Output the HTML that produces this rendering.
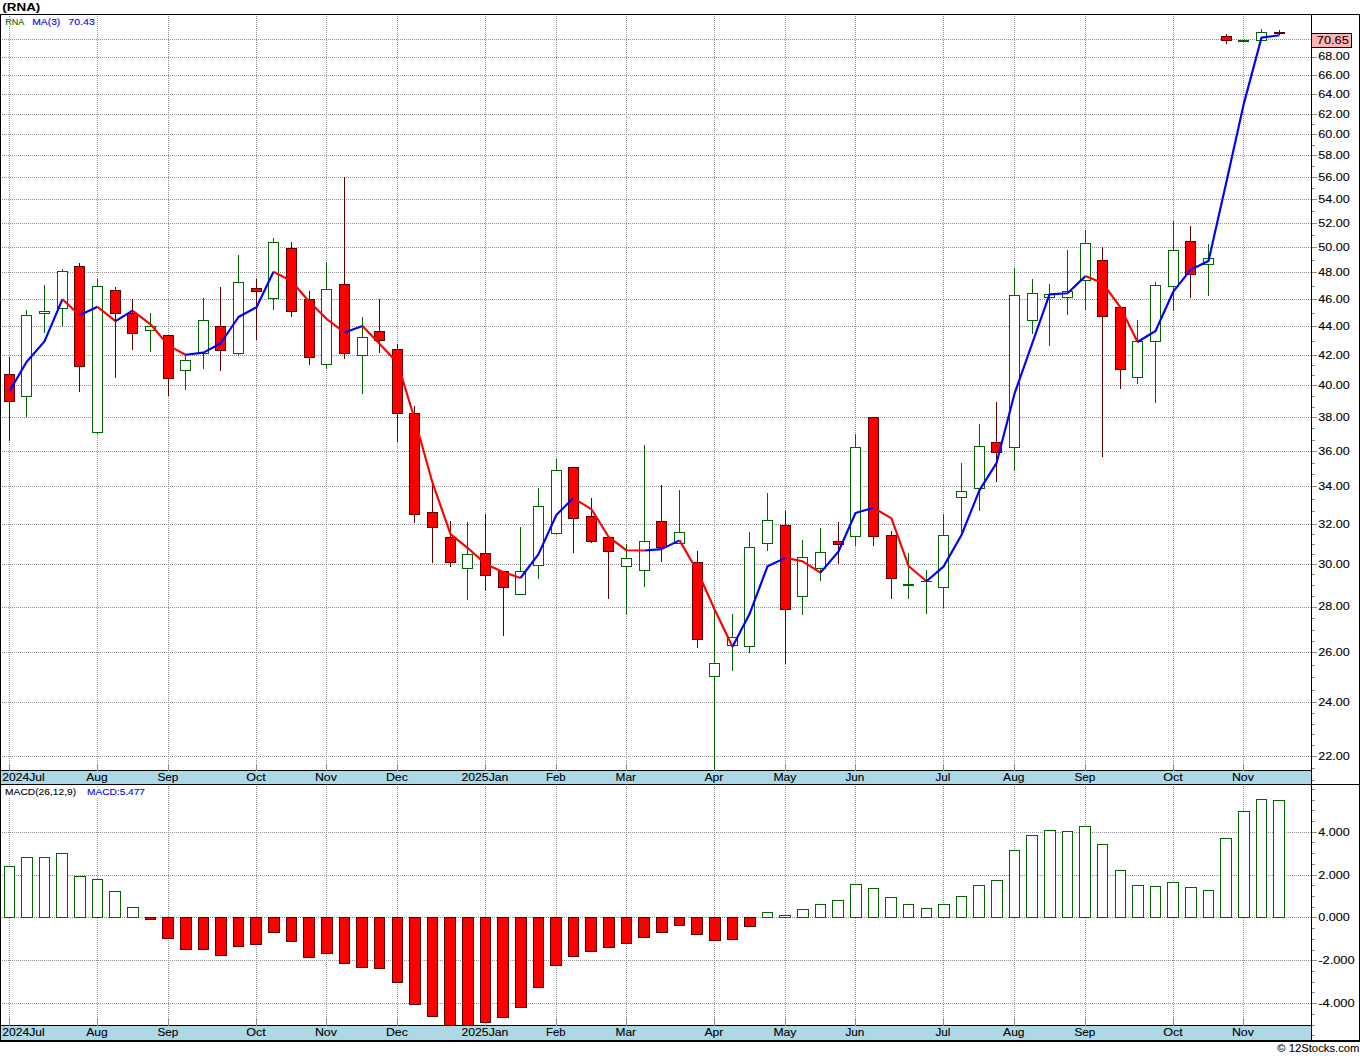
<!DOCTYPE html><html><head><meta charset="utf-8"><title>RNA</title><style>html,body{margin:0;padding:0;background:#fff}svg{display:block}</style></head><body><svg width="1360" height="1056" viewBox="0 0 1360 1056"><style>.d{stroke:#909090;stroke-width:1;stroke-dasharray:1 1}</style><rect width="1360" height="1056" fill="#fff"/><g shape-rendering="crispEdges">
<line x1="2" y1="756.5" x2="1311" y2="756.5" class="d"/>
<line x1="2" y1="702.5" x2="1311" y2="702.5" class="d"/>
<line x1="2" y1="652.5" x2="1311" y2="652.5" class="d"/>
<line x1="2" y1="607.5" x2="1311" y2="607.5" class="d"/>
<line x1="2" y1="564.5" x2="1311" y2="564.5" class="d"/>
<line x1="2" y1="524.5" x2="1311" y2="524.5" class="d"/>
<line x1="2" y1="486.5" x2="1311" y2="486.5" class="d"/>
<line x1="2" y1="451.5" x2="1311" y2="451.5" class="d"/>
<line x1="2" y1="417.5" x2="1311" y2="417.5" class="d"/>
<line x1="2" y1="385.5" x2="1311" y2="385.5" class="d"/>
<line x1="2" y1="355.5" x2="1311" y2="355.5" class="d"/>
<line x1="2" y1="326.5" x2="1311" y2="326.5" class="d"/>
<line x1="2" y1="299.5" x2="1311" y2="299.5" class="d"/>
<line x1="2" y1="272.5" x2="1311" y2="272.5" class="d"/>
<line x1="2" y1="247.5" x2="1311" y2="247.5" class="d"/>
<line x1="2" y1="223.5" x2="1311" y2="223.5" class="d"/>
<line x1="2" y1="199.5" x2="1311" y2="199.5" class="d"/>
<line x1="2" y1="177.5" x2="1311" y2="177.5" class="d"/>
<line x1="2" y1="155.5" x2="1311" y2="155.5" class="d"/>
<line x1="2" y1="134.5" x2="1311" y2="134.5" class="d"/>
<line x1="2" y1="114.5" x2="1311" y2="114.5" class="d"/>
<line x1="2" y1="94.5" x2="1311" y2="94.5" class="d"/>
<line x1="2" y1="75.5" x2="1311" y2="75.5" class="d"/>
<line x1="2" y1="57.5" x2="1311" y2="57.5" class="d"/>
<line x1="2" y1="39.5" x2="1311" y2="39.5" class="d"/>
<line x1="2" y1="832.5" x2="1311" y2="832.5" class="d"/>
<line x1="2" y1="875.5" x2="1311" y2="875.5" class="d"/>
<line x1="2" y1="917.5" x2="1311" y2="917.5" class="d"/>
<line x1="2" y1="960.5" x2="1311" y2="960.5" class="d"/>
<line x1="2" y1="1003.5" x2="1311" y2="1003.5" class="d"/>
<line x1="9.5" y1="16" x2="9.5" y2="764" class="d"/>
<line x1="9.5" y1="786" x2="9.5" y2="1019" class="d"/>
<rect x="9" y="764" width="1" height="6" fill="#8e8e8e"/>
<rect x="9" y="1019" width="1" height="6" fill="#8e8e8e"/>
<line x1="97.5" y1="16" x2="97.5" y2="764" class="d"/>
<line x1="97.5" y1="786" x2="97.5" y2="1019" class="d"/>
<rect x="97" y="764" width="1" height="6" fill="#8e8e8e"/>
<rect x="97" y="1019" width="1" height="6" fill="#8e8e8e"/>
<line x1="168.5" y1="16" x2="168.5" y2="764" class="d"/>
<line x1="168.5" y1="786" x2="168.5" y2="1019" class="d"/>
<rect x="168" y="764" width="1" height="6" fill="#8e8e8e"/>
<rect x="168" y="1019" width="1" height="6" fill="#8e8e8e"/>
<line x1="256.5" y1="16" x2="256.5" y2="764" class="d"/>
<line x1="256.5" y1="786" x2="256.5" y2="1019" class="d"/>
<rect x="256" y="764" width="1" height="6" fill="#8e8e8e"/>
<rect x="256" y="1019" width="1" height="6" fill="#8e8e8e"/>
<line x1="326.5" y1="16" x2="326.5" y2="764" class="d"/>
<line x1="326.5" y1="786" x2="326.5" y2="1019" class="d"/>
<rect x="326" y="764" width="1" height="6" fill="#8e8e8e"/>
<rect x="326" y="1019" width="1" height="6" fill="#8e8e8e"/>
<line x1="397.5" y1="16" x2="397.5" y2="764" class="d"/>
<line x1="397.5" y1="786" x2="397.5" y2="1019" class="d"/>
<rect x="397" y="764" width="1" height="6" fill="#8e8e8e"/>
<rect x="397" y="1019" width="1" height="6" fill="#8e8e8e"/>
<line x1="485.5" y1="16" x2="485.5" y2="764" class="d"/>
<line x1="485.5" y1="786" x2="485.5" y2="1019" class="d"/>
<rect x="485" y="764" width="1" height="6" fill="#8e8e8e"/>
<rect x="485" y="1019" width="1" height="6" fill="#8e8e8e"/>
<line x1="556.5" y1="16" x2="556.5" y2="764" class="d"/>
<line x1="556.5" y1="786" x2="556.5" y2="1019" class="d"/>
<rect x="556" y="764" width="1" height="6" fill="#8e8e8e"/>
<rect x="556" y="1019" width="1" height="6" fill="#8e8e8e"/>
<line x1="626.5" y1="16" x2="626.5" y2="764" class="d"/>
<line x1="626.5" y1="786" x2="626.5" y2="1019" class="d"/>
<rect x="626" y="764" width="1" height="6" fill="#8e8e8e"/>
<rect x="626" y="1019" width="1" height="6" fill="#8e8e8e"/>
<line x1="714.5" y1="16" x2="714.5" y2="764" class="d"/>
<line x1="714.5" y1="786" x2="714.5" y2="1019" class="d"/>
<rect x="714" y="764" width="1" height="6" fill="#8e8e8e"/>
<rect x="714" y="1019" width="1" height="6" fill="#8e8e8e"/>
<line x1="785.5" y1="16" x2="785.5" y2="764" class="d"/>
<line x1="785.5" y1="786" x2="785.5" y2="1019" class="d"/>
<rect x="785" y="764" width="1" height="6" fill="#8e8e8e"/>
<rect x="785" y="1019" width="1" height="6" fill="#8e8e8e"/>
<line x1="855.5" y1="16" x2="855.5" y2="764" class="d"/>
<line x1="855.5" y1="786" x2="855.5" y2="1019" class="d"/>
<rect x="855" y="764" width="1" height="6" fill="#8e8e8e"/>
<rect x="855" y="1019" width="1" height="6" fill="#8e8e8e"/>
<line x1="943.5" y1="16" x2="943.5" y2="764" class="d"/>
<line x1="943.5" y1="786" x2="943.5" y2="1019" class="d"/>
<rect x="943" y="764" width="1" height="6" fill="#8e8e8e"/>
<rect x="943" y="1019" width="1" height="6" fill="#8e8e8e"/>
<line x1="1014.5" y1="16" x2="1014.5" y2="764" class="d"/>
<line x1="1014.5" y1="786" x2="1014.5" y2="1019" class="d"/>
<rect x="1014" y="764" width="1" height="6" fill="#8e8e8e"/>
<rect x="1014" y="1019" width="1" height="6" fill="#8e8e8e"/>
<line x1="1085.5" y1="16" x2="1085.5" y2="764" class="d"/>
<line x1="1085.5" y1="786" x2="1085.5" y2="1019" class="d"/>
<rect x="1085" y="764" width="1" height="6" fill="#8e8e8e"/>
<rect x="1085" y="1019" width="1" height="6" fill="#8e8e8e"/>
<line x1="1173.5" y1="16" x2="1173.5" y2="764" class="d"/>
<line x1="1173.5" y1="786" x2="1173.5" y2="1019" class="d"/>
<rect x="1173" y="764" width="1" height="6" fill="#8e8e8e"/>
<rect x="1173" y="1019" width="1" height="6" fill="#8e8e8e"/>
<line x1="1243.5" y1="16" x2="1243.5" y2="764" class="d"/>
<line x1="1243.5" y1="786" x2="1243.5" y2="1019" class="d"/>
<rect x="1243" y="764" width="1" height="6" fill="#8e8e8e"/>
<rect x="1243" y="1019" width="1" height="6" fill="#8e8e8e"/>
</g>
<g shape-rendering="crispEdges">
<rect x="9" y="357" width="1" height="17" fill="#5e0000"/>
<rect x="9" y="402" width="1" height="39" fill="#5e0000"/>
<rect x="4" y="374" width="11" height="28" fill="#5e0000"/>
<rect x="5" y="375" width="9" height="26" fill="#ff0000"/>
<rect x="26" y="310" width="1" height="5" fill="#006400"/>
<rect x="26" y="397" width="1" height="20" fill="#006400"/>
<rect x="21" y="315" width="11" height="82" fill="#006400"/>
<rect x="22" y="316" width="9" height="80" fill="#ffffff"/>
<rect x="44" y="285" width="1" height="26" fill="#006400"/>
<rect x="44" y="314" width="1" height="19" fill="#006400"/>
<rect x="39" y="311" width="11" height="3" fill="#006400"/>
<rect x="40" y="312" width="9" height="1" fill="#ffffff"/>
<rect x="62" y="269" width="1" height="2" fill="#006400"/>
<rect x="62" y="309" width="1" height="17" fill="#006400"/>
<rect x="57" y="271" width="11" height="38" fill="#006400"/>
<rect x="58" y="272" width="9" height="36" fill="#ffffff"/>
<rect x="79" y="263" width="1" height="3" fill="#5e0000"/>
<rect x="79" y="367" width="1" height="25" fill="#5e0000"/>
<rect x="74" y="266" width="11" height="101" fill="#5e0000"/>
<rect x="75" y="267" width="9" height="99" fill="#ff0000"/>
<rect x="97" y="279" width="1" height="7" fill="#006400"/>
<rect x="97" y="433" width="1" height="1" fill="#006400"/>
<rect x="92" y="286" width="11" height="147" fill="#006400"/>
<rect x="93" y="287" width="9" height="145" fill="#ffffff"/>
<rect x="115" y="287" width="1" height="3" fill="#5e0000"/>
<rect x="115" y="314" width="1" height="64" fill="#5e0000"/>
<rect x="110" y="290" width="11" height="24" fill="#5e0000"/>
<rect x="111" y="291" width="9" height="22" fill="#ff0000"/>
<rect x="132" y="299" width="1" height="14" fill="#5e0000"/>
<rect x="132" y="334" width="1" height="16" fill="#5e0000"/>
<rect x="127" y="313" width="11" height="21" fill="#5e0000"/>
<rect x="128" y="314" width="9" height="19" fill="#ff0000"/>
<rect x="150" y="313" width="1" height="13" fill="#006400"/>
<rect x="150" y="331" width="1" height="21" fill="#006400"/>
<rect x="145" y="326" width="11" height="5" fill="#006400"/>
<rect x="146" y="327" width="9" height="3" fill="#ffffff"/>
<rect x="168" y="379" width="1" height="17" fill="#5e0000"/>
<rect x="163" y="335" width="11" height="44" fill="#5e0000"/>
<rect x="164" y="336" width="9" height="42" fill="#ff0000"/>
<rect x="185" y="355" width="1" height="5" fill="#006400"/>
<rect x="185" y="371" width="1" height="19" fill="#006400"/>
<rect x="180" y="360" width="11" height="11" fill="#006400"/>
<rect x="181" y="361" width="9" height="9" fill="#ffffff"/>
<rect x="203" y="298" width="1" height="22" fill="#006400"/>
<rect x="203" y="354" width="1" height="15" fill="#006400"/>
<rect x="198" y="320" width="11" height="34" fill="#006400"/>
<rect x="199" y="321" width="9" height="32" fill="#ffffff"/>
<rect x="220" y="287" width="1" height="39" fill="#5e0000"/>
<rect x="220" y="351" width="1" height="20" fill="#5e0000"/>
<rect x="215" y="326" width="11" height="25" fill="#5e0000"/>
<rect x="216" y="327" width="9" height="23" fill="#ff0000"/>
<rect x="238" y="255" width="1" height="27" fill="#006400"/>
<rect x="238" y="354" width="1" height="2" fill="#006400"/>
<rect x="233" y="282" width="11" height="72" fill="#006400"/>
<rect x="234" y="283" width="9" height="70" fill="#ffffff"/>
<rect x="256" y="279" width="1" height="9" fill="#5e0000"/>
<rect x="256" y="292" width="1" height="48" fill="#5e0000"/>
<rect x="251" y="288" width="11" height="4" fill="#5e0000"/>
<rect x="252" y="289" width="9" height="2" fill="#ff0000"/>
<rect x="273" y="238" width="1" height="4" fill="#006400"/>
<rect x="273" y="299" width="1" height="11" fill="#006400"/>
<rect x="268" y="242" width="11" height="57" fill="#006400"/>
<rect x="269" y="243" width="9" height="55" fill="#ffffff"/>
<rect x="291" y="242" width="1" height="6" fill="#5e0000"/>
<rect x="291" y="312" width="1" height="5" fill="#5e0000"/>
<rect x="286" y="248" width="11" height="64" fill="#5e0000"/>
<rect x="287" y="249" width="9" height="62" fill="#ff0000"/>
<rect x="309" y="291" width="1" height="8" fill="#5e0000"/>
<rect x="309" y="358" width="1" height="7" fill="#5e0000"/>
<rect x="304" y="299" width="11" height="59" fill="#5e0000"/>
<rect x="305" y="300" width="9" height="57" fill="#ff0000"/>
<rect x="326" y="262" width="1" height="27" fill="#006400"/>
<rect x="326" y="365" width="1" height="4" fill="#006400"/>
<rect x="321" y="289" width="11" height="76" fill="#006400"/>
<rect x="322" y="290" width="9" height="74" fill="#ffffff"/>
<rect x="344" y="177" width="1" height="107" fill="#5e0000"/>
<rect x="344" y="354" width="1" height="5" fill="#5e0000"/>
<rect x="339" y="284" width="11" height="70" fill="#5e0000"/>
<rect x="340" y="285" width="9" height="68" fill="#ff0000"/>
<rect x="362" y="317" width="1" height="20" fill="#006400"/>
<rect x="362" y="356" width="1" height="38" fill="#006400"/>
<rect x="357" y="337" width="11" height="19" fill="#006400"/>
<rect x="358" y="338" width="9" height="17" fill="#ffffff"/>
<rect x="379" y="299" width="1" height="32" fill="#5e0000"/>
<rect x="379" y="341" width="1" height="12" fill="#5e0000"/>
<rect x="374" y="331" width="11" height="10" fill="#5e0000"/>
<rect x="375" y="332" width="9" height="8" fill="#ff0000"/>
<rect x="397" y="344" width="1" height="5" fill="#5e0000"/>
<rect x="397" y="414" width="1" height="28" fill="#5e0000"/>
<rect x="392" y="349" width="11" height="65" fill="#5e0000"/>
<rect x="393" y="350" width="9" height="63" fill="#ff0000"/>
<rect x="414" y="406" width="1" height="7" fill="#5e0000"/>
<rect x="414" y="515" width="1" height="8" fill="#5e0000"/>
<rect x="409" y="413" width="11" height="102" fill="#5e0000"/>
<rect x="410" y="414" width="9" height="100" fill="#ff0000"/>
<rect x="432" y="484" width="1" height="28" fill="#5e0000"/>
<rect x="432" y="528" width="1" height="35" fill="#5e0000"/>
<rect x="427" y="512" width="11" height="16" fill="#5e0000"/>
<rect x="428" y="513" width="9" height="14" fill="#ff0000"/>
<rect x="450" y="521" width="1" height="16" fill="#5e0000"/>
<rect x="450" y="563" width="1" height="4" fill="#5e0000"/>
<rect x="445" y="537" width="11" height="26" fill="#5e0000"/>
<rect x="446" y="538" width="9" height="24" fill="#ff0000"/>
<rect x="467" y="522" width="1" height="32" fill="#006400"/>
<rect x="467" y="569" width="1" height="31" fill="#006400"/>
<rect x="462" y="554" width="11" height="15" fill="#006400"/>
<rect x="463" y="555" width="9" height="13" fill="#ffffff"/>
<rect x="485" y="514" width="1" height="39" fill="#5e0000"/>
<rect x="485" y="576" width="1" height="15" fill="#5e0000"/>
<rect x="480" y="553" width="11" height="23" fill="#5e0000"/>
<rect x="481" y="554" width="9" height="21" fill="#ff0000"/>
<rect x="503" y="588" width="1" height="48" fill="#5e0000"/>
<rect x="498" y="571" width="11" height="17" fill="#5e0000"/>
<rect x="499" y="572" width="9" height="15" fill="#ff0000"/>
<rect x="520" y="527" width="1" height="44" fill="#006400"/>
<rect x="515" y="571" width="11" height="24" fill="#006400"/>
<rect x="516" y="572" width="9" height="22" fill="#ffffff"/>
<rect x="538" y="488" width="1" height="18" fill="#006400"/>
<rect x="538" y="566" width="1" height="13" fill="#006400"/>
<rect x="533" y="506" width="11" height="60" fill="#006400"/>
<rect x="534" y="507" width="9" height="58" fill="#ffffff"/>
<rect x="556" y="459" width="1" height="11" fill="#006400"/>
<rect x="556" y="534" width="1" height="1" fill="#006400"/>
<rect x="551" y="470" width="11" height="64" fill="#006400"/>
<rect x="552" y="471" width="9" height="62" fill="#ffffff"/>
<rect x="573" y="519" width="1" height="34" fill="#5e0000"/>
<rect x="568" y="467" width="11" height="52" fill="#5e0000"/>
<rect x="569" y="468" width="9" height="50" fill="#ff0000"/>
<rect x="591" y="498" width="1" height="18" fill="#5e0000"/>
<rect x="591" y="542" width="1" height="1" fill="#5e0000"/>
<rect x="586" y="516" width="11" height="26" fill="#5e0000"/>
<rect x="587" y="517" width="9" height="24" fill="#ff0000"/>
<rect x="608" y="552" width="1" height="47" fill="#5e0000"/>
<rect x="603" y="537" width="11" height="15" fill="#5e0000"/>
<rect x="604" y="538" width="9" height="13" fill="#ff0000"/>
<rect x="626" y="544" width="1" height="14" fill="#006400"/>
<rect x="626" y="567" width="1" height="48" fill="#006400"/>
<rect x="621" y="558" width="11" height="9" fill="#006400"/>
<rect x="622" y="559" width="9" height="7" fill="#ffffff"/>
<rect x="644" y="445" width="1" height="96" fill="#006400"/>
<rect x="644" y="571" width="1" height="16" fill="#006400"/>
<rect x="639" y="541" width="11" height="30" fill="#006400"/>
<rect x="640" y="542" width="9" height="28" fill="#ffffff"/>
<rect x="661" y="485" width="1" height="36" fill="#5e0000"/>
<rect x="661" y="548" width="1" height="14" fill="#5e0000"/>
<rect x="656" y="521" width="11" height="27" fill="#5e0000"/>
<rect x="657" y="522" width="9" height="25" fill="#ff0000"/>
<rect x="679" y="490" width="1" height="42" fill="#006400"/>
<rect x="674" y="532" width="11" height="12" fill="#006400"/>
<rect x="675" y="533" width="9" height="10" fill="#ffffff"/>
<rect x="697" y="551" width="1" height="11" fill="#5e0000"/>
<rect x="697" y="640" width="1" height="8" fill="#5e0000"/>
<rect x="692" y="562" width="11" height="78" fill="#5e0000"/>
<rect x="693" y="563" width="9" height="76" fill="#ff0000"/>
<rect x="714" y="610" width="1" height="53" fill="#006400"/>
<rect x="714" y="677" width="1" height="94" fill="#006400"/>
<rect x="709" y="663" width="11" height="14" fill="#006400"/>
<rect x="710" y="664" width="9" height="12" fill="#ffffff"/>
<rect x="732" y="614" width="1" height="23" fill="#006400"/>
<rect x="732" y="646" width="1" height="25" fill="#006400"/>
<rect x="727" y="637" width="11" height="9" fill="#006400"/>
<rect x="728" y="638" width="9" height="7" fill="#ffffff"/>
<rect x="749" y="532" width="1" height="15" fill="#006400"/>
<rect x="749" y="647" width="1" height="6" fill="#006400"/>
<rect x="744" y="547" width="11" height="100" fill="#006400"/>
<rect x="745" y="548" width="9" height="98" fill="#ffffff"/>
<rect x="767" y="493" width="1" height="27" fill="#006400"/>
<rect x="767" y="544" width="1" height="7" fill="#006400"/>
<rect x="762" y="520" width="11" height="24" fill="#006400"/>
<rect x="763" y="521" width="9" height="22" fill="#ffffff"/>
<rect x="785" y="511" width="1" height="14" fill="#5e0000"/>
<rect x="785" y="610" width="1" height="54" fill="#5e0000"/>
<rect x="780" y="525" width="11" height="85" fill="#5e0000"/>
<rect x="781" y="526" width="9" height="83" fill="#ff0000"/>
<rect x="802" y="540" width="1" height="17" fill="#006400"/>
<rect x="802" y="597" width="1" height="18" fill="#006400"/>
<rect x="797" y="557" width="11" height="40" fill="#006400"/>
<rect x="798" y="558" width="9" height="38" fill="#ffffff"/>
<rect x="820" y="528" width="1" height="24" fill="#006400"/>
<rect x="820" y="569" width="1" height="12" fill="#006400"/>
<rect x="815" y="552" width="11" height="17" fill="#006400"/>
<rect x="816" y="553" width="9" height="15" fill="#ffffff"/>
<rect x="838" y="522" width="1" height="19" fill="#5e0000"/>
<rect x="838" y="545" width="1" height="19" fill="#5e0000"/>
<rect x="833" y="541" width="11" height="4" fill="#5e0000"/>
<rect x="834" y="542" width="9" height="2" fill="#ff0000"/>
<rect x="855" y="434" width="1" height="13" fill="#006400"/>
<rect x="855" y="537" width="1" height="9" fill="#006400"/>
<rect x="850" y="447" width="11" height="90" fill="#006400"/>
<rect x="851" y="448" width="9" height="88" fill="#ffffff"/>
<rect x="873" y="537" width="1" height="9" fill="#5e0000"/>
<rect x="868" y="417" width="11" height="120" fill="#5e0000"/>
<rect x="869" y="418" width="9" height="118" fill="#ff0000"/>
<rect x="891" y="531" width="1" height="4" fill="#5e0000"/>
<rect x="891" y="579" width="1" height="20" fill="#5e0000"/>
<rect x="886" y="535" width="11" height="44" fill="#5e0000"/>
<rect x="887" y="536" width="9" height="42" fill="#ff0000"/>
<rect x="908" y="553" width="1" height="31" fill="#006400"/>
<rect x="908" y="586" width="1" height="13" fill="#006400"/>
<rect x="903" y="584" width="11" height="2" fill="#006400"/>
<rect x="926" y="570" width="1" height="11" fill="#006400"/>
<rect x="926" y="582" width="1" height="32" fill="#006400"/>
<rect x="921" y="581" width="11" height="1" fill="#006400"/>
<rect x="943" y="514" width="1" height="21" fill="#006400"/>
<rect x="943" y="588" width="1" height="20" fill="#006400"/>
<rect x="938" y="535" width="11" height="53" fill="#006400"/>
<rect x="939" y="536" width="9" height="51" fill="#ffffff"/>
<rect x="961" y="463" width="1" height="28" fill="#006400"/>
<rect x="961" y="498" width="1" height="34" fill="#006400"/>
<rect x="956" y="491" width="11" height="7" fill="#006400"/>
<rect x="957" y="492" width="9" height="5" fill="#ffffff"/>
<rect x="979" y="424" width="1" height="22" fill="#006400"/>
<rect x="979" y="489" width="1" height="22" fill="#006400"/>
<rect x="974" y="446" width="11" height="43" fill="#006400"/>
<rect x="975" y="447" width="9" height="41" fill="#ffffff"/>
<rect x="996" y="402" width="1" height="40" fill="#5e0000"/>
<rect x="996" y="453" width="1" height="29" fill="#5e0000"/>
<rect x="991" y="442" width="11" height="11" fill="#5e0000"/>
<rect x="992" y="443" width="9" height="9" fill="#ff0000"/>
<rect x="1014" y="268" width="1" height="27" fill="#006400"/>
<rect x="1014" y="448" width="1" height="23" fill="#006400"/>
<rect x="1009" y="295" width="11" height="153" fill="#006400"/>
<rect x="1010" y="296" width="9" height="151" fill="#ffffff"/>
<rect x="1032" y="279" width="1" height="14" fill="#006400"/>
<rect x="1032" y="321" width="1" height="13" fill="#006400"/>
<rect x="1027" y="293" width="11" height="28" fill="#006400"/>
<rect x="1028" y="294" width="9" height="26" fill="#ffffff"/>
<rect x="1049" y="284" width="1" height="10" fill="#006400"/>
<rect x="1049" y="298" width="1" height="48" fill="#006400"/>
<rect x="1044" y="294" width="11" height="4" fill="#006400"/>
<rect x="1045" y="295" width="9" height="2" fill="#ffffff"/>
<rect x="1067" y="250" width="1" height="41" fill="#006400"/>
<rect x="1067" y="298" width="1" height="17" fill="#006400"/>
<rect x="1062" y="291" width="11" height="7" fill="#006400"/>
<rect x="1063" y="292" width="9" height="5" fill="#ffffff"/>
<rect x="1085" y="230" width="1" height="13" fill="#006400"/>
<rect x="1085" y="281" width="1" height="29" fill="#006400"/>
<rect x="1080" y="243" width="11" height="38" fill="#006400"/>
<rect x="1081" y="244" width="9" height="36" fill="#ffffff"/>
<rect x="1102" y="247" width="1" height="13" fill="#5e0000"/>
<rect x="1102" y="317" width="1" height="140" fill="#5e0000"/>
<rect x="1097" y="260" width="11" height="57" fill="#5e0000"/>
<rect x="1098" y="261" width="9" height="55" fill="#ff0000"/>
<rect x="1120" y="370" width="1" height="19" fill="#5e0000"/>
<rect x="1115" y="307" width="11" height="63" fill="#5e0000"/>
<rect x="1116" y="308" width="9" height="61" fill="#ff0000"/>
<rect x="1137" y="320" width="1" height="21" fill="#006400"/>
<rect x="1137" y="378" width="1" height="6" fill="#006400"/>
<rect x="1132" y="341" width="11" height="37" fill="#006400"/>
<rect x="1133" y="342" width="9" height="35" fill="#ffffff"/>
<rect x="1155" y="282" width="1" height="3" fill="#006400"/>
<rect x="1155" y="342" width="1" height="61" fill="#006400"/>
<rect x="1150" y="285" width="11" height="57" fill="#006400"/>
<rect x="1151" y="286" width="9" height="55" fill="#ffffff"/>
<rect x="1173" y="221" width="1" height="29" fill="#006400"/>
<rect x="1173" y="287" width="1" height="24" fill="#006400"/>
<rect x="1168" y="250" width="11" height="37" fill="#006400"/>
<rect x="1169" y="251" width="9" height="35" fill="#ffffff"/>
<rect x="1190" y="226" width="1" height="15" fill="#5e0000"/>
<rect x="1190" y="275" width="1" height="23" fill="#5e0000"/>
<rect x="1185" y="241" width="11" height="34" fill="#5e0000"/>
<rect x="1186" y="242" width="9" height="32" fill="#ff0000"/>
<rect x="1208" y="244" width="1" height="14" fill="#006400"/>
<rect x="1208" y="265" width="1" height="31" fill="#006400"/>
<rect x="1203" y="258" width="11" height="7" fill="#006400"/>
<rect x="1204" y="259" width="9" height="5" fill="#ffffff"/>
<rect x="1226" y="34" width="1" height="2" fill="#5e0000"/>
<rect x="1226" y="41" width="1" height="3" fill="#5e0000"/>
<rect x="1221" y="36" width="11" height="5" fill="#5e0000"/>
<rect x="1222" y="37" width="9" height="3" fill="#ff0000"/>
<rect x="1238" y="40" width="11" height="2" fill="#006400"/>
<rect x="1261" y="29" width="1" height="3" fill="#006400"/>
<rect x="1256" y="32" width="11" height="9" fill="#006400"/>
<rect x="1257" y="33" width="9" height="7" fill="#ffffff"/>
<rect x="1279" y="30" width="1" height="2" fill="#5e0000"/>
<rect x="1279" y="34" width="1" height="1" fill="#5e0000"/>
<rect x="1274" y="32" width="11" height="2" fill="#5e0000"/>
</g>
<polyline points="9.5,391.1 26.5,362.0 44.5,341.4 62.5,299.2" fill="none" stroke="#0000ff" stroke-width="2.15" stroke-linejoin="round" stroke-linecap="butt"/>
<polyline points="62.5,299.2 79.5,315.3" fill="none" stroke="#ff0000" stroke-width="2.15" stroke-linejoin="round" stroke-linecap="butt"/>
<polyline points="79.5,315.3 97.5,306.8" fill="none" stroke="#0000ff" stroke-width="2.15" stroke-linejoin="round" stroke-linecap="butt"/>
<polyline points="97.5,306.8 115.5,321.2" fill="none" stroke="#ff0000" stroke-width="2.15" stroke-linejoin="round" stroke-linecap="butt"/>
<polyline points="115.5,321.2 132.5,310.7" fill="none" stroke="#0000ff" stroke-width="2.15" stroke-linejoin="round" stroke-linecap="butt"/>
<polyline points="132.5,310.7 150.5,324.3 168.5,345.6 185.5,354.7" fill="none" stroke="#ff0000" stroke-width="2.15" stroke-linejoin="round" stroke-linecap="butt"/>
<polyline points="185.5,354.7 203.5,352.6 220.5,343.5 238.5,317.0 256.5,307.3 273.5,271.7" fill="none" stroke="#0000ff" stroke-width="2.15" stroke-linejoin="round" stroke-linecap="butt"/>
<polyline points="273.5,271.7 291.5,281.1 309.5,302.0 326.5,318.8 344.5,332.5" fill="none" stroke="#ff0000" stroke-width="2.15" stroke-linejoin="round" stroke-linecap="butt"/>
<polyline points="344.5,332.5 362.5,326.1" fill="none" stroke="#0000ff" stroke-width="2.15" stroke-linejoin="round" stroke-linecap="butt"/>
<polyline points="362.5,326.1 379.5,343.7 397.5,362.7 414.5,418.5 432.5,482.7 450.5,534.2 467.5,547.8 485.5,563.9 503.5,572.2 520.5,578.0" fill="none" stroke="#ff0000" stroke-width="2.15" stroke-linejoin="round" stroke-linecap="butt"/>
<polyline points="520.5,578.0 538.5,554.1 556.5,514.7 573.5,498.1" fill="none" stroke="#0000ff" stroke-width="2.15" stroke-linejoin="round" stroke-linecap="butt"/>
<polyline points="573.5,498.1 591.5,509.3 608.5,536.8 626.5,550.3 644.5,550.5" fill="none" stroke="#ff0000" stroke-width="2.15" stroke-linejoin="round" stroke-linecap="butt"/>
<polyline points="644.5,550.5 661.5,549.1 679.5,540.4" fill="none" stroke="#0000ff" stroke-width="2.15" stroke-linejoin="round" stroke-linecap="butt"/>
<polyline points="679.5,540.4 697.5,571.2 714.5,609.2 732.5,646.7" fill="none" stroke="#ff0000" stroke-width="2.15" stroke-linejoin="round" stroke-linecap="butt"/>
<polyline points="732.5,646.7 749.5,614.1 767.5,566.3 785.5,557.9" fill="none" stroke="#0000ff" stroke-width="2.15" stroke-linejoin="round" stroke-linecap="butt"/>
<polyline points="785.5,557.9 802.5,561.3 820.5,572.6" fill="none" stroke="#ff0000" stroke-width="2.15" stroke-linejoin="round" stroke-linecap="butt"/>
<polyline points="820.5,572.6 838.5,551.5 855.5,513.0 873.5,507.8" fill="none" stroke="#0000ff" stroke-width="2.15" stroke-linejoin="round" stroke-linecap="butt"/>
<polyline points="873.5,507.8 891.5,518.4 908.5,566.0 926.5,581.3" fill="none" stroke="#ff0000" stroke-width="2.15" stroke-linejoin="round" stroke-linecap="butt"/>
<polyline points="926.5,581.3 943.5,566.6 961.5,535.0 979.5,490.1 996.5,463.1 1014.5,393.7 1032.5,342.7 1049.5,294.4 1067.5,293.2 1085.5,276.1" fill="none" stroke="#0000ff" stroke-width="2.15" stroke-linejoin="round" stroke-linecap="butt"/>
<polyline points="1085.5,276.1 1102.5,283.0 1120.5,307.4 1137.5,342.0" fill="none" stroke="#ff0000" stroke-width="2.15" stroke-linejoin="round" stroke-linecap="butt"/>
<polyline points="1137.5,342.0 1155.5,331.0 1173.5,291.3 1190.5,269.8 1208.5,261.0 1226.5,181.5 1243.5,104.9 1261.5,37.6 1279.5,35.3" fill="none" stroke="#0000ff" stroke-width="2.15" stroke-linejoin="round" stroke-linecap="butt"/>
<g shape-rendering="crispEdges">
<rect x="4" y="866" width="11" height="52" fill="#006400"/>
<rect x="5" y="867" width="9" height="50" fill="#ffffff"/>
<rect x="21" y="857" width="12" height="61" fill="#006400"/>
<rect x="22" y="858" width="10" height="59" fill="#ffffff"/>
<rect x="39" y="857" width="11" height="61" fill="#006400"/>
<rect x="40" y="858" width="9" height="59" fill="#ffffff"/>
<rect x="56" y="853" width="12" height="65" fill="#006400"/>
<rect x="57" y="854" width="10" height="63" fill="#ffffff"/>
<rect x="74" y="876" width="12" height="42" fill="#006400"/>
<rect x="75" y="877" width="10" height="40" fill="#ffffff"/>
<rect x="92" y="879" width="11" height="39" fill="#006400"/>
<rect x="93" y="880" width="9" height="37" fill="#ffffff"/>
<rect x="109" y="891" width="12" height="27" fill="#006400"/>
<rect x="110" y="892" width="10" height="25" fill="#ffffff"/>
<rect x="127" y="907" width="12" height="11" fill="#006400"/>
<rect x="128" y="908" width="10" height="9" fill="#ffffff"/>
<rect x="145" y="917" width="11" height="3" fill="#5e0000"/>
<rect x="146" y="918" width="9" height="1" fill="#ff0000"/>
<rect x="162" y="917" width="12" height="22" fill="#5e0000"/>
<rect x="163" y="918" width="10" height="20" fill="#ff0000"/>
<rect x="180" y="917" width="12" height="33" fill="#5e0000"/>
<rect x="181" y="918" width="10" height="31" fill="#ff0000"/>
<rect x="198" y="917" width="11" height="33" fill="#5e0000"/>
<rect x="199" y="918" width="9" height="31" fill="#ff0000"/>
<rect x="215" y="917" width="12" height="39" fill="#5e0000"/>
<rect x="216" y="918" width="10" height="37" fill="#ff0000"/>
<rect x="233" y="917" width="11" height="30" fill="#5e0000"/>
<rect x="234" y="918" width="9" height="28" fill="#ff0000"/>
<rect x="250" y="917" width="12" height="28" fill="#5e0000"/>
<rect x="251" y="918" width="10" height="26" fill="#ff0000"/>
<rect x="268" y="917" width="12" height="16" fill="#5e0000"/>
<rect x="269" y="918" width="10" height="14" fill="#ff0000"/>
<rect x="286" y="917" width="11" height="25" fill="#5e0000"/>
<rect x="287" y="918" width="9" height="23" fill="#ff0000"/>
<rect x="303" y="917" width="12" height="41" fill="#5e0000"/>
<rect x="304" y="918" width="10" height="39" fill="#ff0000"/>
<rect x="321" y="917" width="12" height="37" fill="#5e0000"/>
<rect x="322" y="918" width="10" height="35" fill="#ff0000"/>
<rect x="339" y="917" width="11" height="47" fill="#5e0000"/>
<rect x="340" y="918" width="9" height="45" fill="#ff0000"/>
<rect x="356" y="917" width="12" height="51" fill="#5e0000"/>
<rect x="357" y="918" width="10" height="49" fill="#ff0000"/>
<rect x="374" y="917" width="11" height="52" fill="#5e0000"/>
<rect x="375" y="918" width="9" height="50" fill="#ff0000"/>
<rect x="392" y="917" width="11" height="66" fill="#5e0000"/>
<rect x="393" y="918" width="9" height="64" fill="#ff0000"/>
<rect x="409" y="917" width="12" height="88" fill="#5e0000"/>
<rect x="410" y="918" width="10" height="86" fill="#ff0000"/>
<rect x="427" y="917" width="11" height="100" fill="#5e0000"/>
<rect x="428" y="918" width="9" height="98" fill="#ff0000"/>
<rect x="444" y="917" width="12" height="109" fill="#5e0000"/>
<rect x="445" y="918" width="10" height="108" fill="#ff0000"/>
<rect x="462" y="917" width="12" height="109" fill="#5e0000"/>
<rect x="463" y="918" width="10" height="108" fill="#ff0000"/>
<rect x="480" y="917" width="11" height="106" fill="#5e0000"/>
<rect x="481" y="918" width="9" height="104" fill="#ff0000"/>
<rect x="497" y="917" width="12" height="101" fill="#5e0000"/>
<rect x="498" y="918" width="10" height="99" fill="#ff0000"/>
<rect x="515" y="917" width="12" height="91" fill="#5e0000"/>
<rect x="516" y="918" width="10" height="89" fill="#ff0000"/>
<rect x="533" y="917" width="11" height="71" fill="#5e0000"/>
<rect x="534" y="918" width="9" height="69" fill="#ff0000"/>
<rect x="550" y="917" width="12" height="49" fill="#5e0000"/>
<rect x="551" y="918" width="10" height="47" fill="#ff0000"/>
<rect x="568" y="917" width="11" height="40" fill="#5e0000"/>
<rect x="569" y="918" width="9" height="38" fill="#ff0000"/>
<rect x="585" y="917" width="12" height="35" fill="#5e0000"/>
<rect x="586" y="918" width="10" height="33" fill="#ff0000"/>
<rect x="603" y="917" width="12" height="31" fill="#5e0000"/>
<rect x="604" y="918" width="10" height="29" fill="#ff0000"/>
<rect x="621" y="917" width="11" height="27" fill="#5e0000"/>
<rect x="622" y="918" width="9" height="25" fill="#ff0000"/>
<rect x="638" y="917" width="12" height="21" fill="#5e0000"/>
<rect x="639" y="918" width="10" height="19" fill="#ff0000"/>
<rect x="656" y="917" width="12" height="16" fill="#5e0000"/>
<rect x="657" y="918" width="10" height="14" fill="#ff0000"/>
<rect x="674" y="917" width="11" height="9" fill="#5e0000"/>
<rect x="675" y="918" width="9" height="7" fill="#ff0000"/>
<rect x="691" y="917" width="12" height="18" fill="#5e0000"/>
<rect x="692" y="918" width="10" height="16" fill="#ff0000"/>
<rect x="709" y="917" width="12" height="24" fill="#5e0000"/>
<rect x="710" y="918" width="10" height="22" fill="#ff0000"/>
<rect x="727" y="917" width="11" height="23" fill="#5e0000"/>
<rect x="728" y="918" width="9" height="21" fill="#ff0000"/>
<rect x="744" y="917" width="12" height="10" fill="#5e0000"/>
<rect x="745" y="918" width="10" height="8" fill="#ff0000"/>
<rect x="762" y="912" width="11" height="6" fill="#006400"/>
<rect x="763" y="913" width="9" height="4" fill="#ffffff"/>
<rect x="779" y="915" width="12" height="3" fill="#006400"/>
<rect x="780" y="916" width="10" height="1" fill="#ffffff"/>
<rect x="797" y="909" width="12" height="9" fill="#006400"/>
<rect x="798" y="910" width="10" height="7" fill="#ffffff"/>
<rect x="815" y="904" width="11" height="14" fill="#006400"/>
<rect x="816" y="905" width="9" height="12" fill="#ffffff"/>
<rect x="832" y="900" width="12" height="18" fill="#006400"/>
<rect x="833" y="901" width="10" height="16" fill="#ffffff"/>
<rect x="850" y="884" width="12" height="34" fill="#006400"/>
<rect x="851" y="885" width="10" height="32" fill="#ffffff"/>
<rect x="868" y="888" width="11" height="30" fill="#006400"/>
<rect x="869" y="889" width="9" height="28" fill="#ffffff"/>
<rect x="885" y="897" width="12" height="21" fill="#006400"/>
<rect x="886" y="898" width="10" height="19" fill="#ffffff"/>
<rect x="903" y="904" width="11" height="14" fill="#006400"/>
<rect x="904" y="905" width="9" height="12" fill="#ffffff"/>
<rect x="921" y="908" width="11" height="10" fill="#006400"/>
<rect x="922" y="909" width="9" height="8" fill="#ffffff"/>
<rect x="938" y="904" width="12" height="14" fill="#006400"/>
<rect x="939" y="905" width="10" height="12" fill="#ffffff"/>
<rect x="956" y="896" width="11" height="22" fill="#006400"/>
<rect x="957" y="897" width="9" height="20" fill="#ffffff"/>
<rect x="973" y="885" width="12" height="33" fill="#006400"/>
<rect x="974" y="886" width="10" height="31" fill="#ffffff"/>
<rect x="991" y="880" width="12" height="38" fill="#006400"/>
<rect x="992" y="881" width="10" height="36" fill="#ffffff"/>
<rect x="1009" y="850" width="11" height="68" fill="#006400"/>
<rect x="1010" y="851" width="9" height="66" fill="#ffffff"/>
<rect x="1026" y="835" width="12" height="83" fill="#006400"/>
<rect x="1027" y="836" width="10" height="81" fill="#ffffff"/>
<rect x="1044" y="830" width="12" height="88" fill="#006400"/>
<rect x="1045" y="831" width="10" height="86" fill="#ffffff"/>
<rect x="1062" y="831" width="11" height="87" fill="#006400"/>
<rect x="1063" y="832" width="9" height="85" fill="#ffffff"/>
<rect x="1079" y="826" width="12" height="92" fill="#006400"/>
<rect x="1080" y="827" width="10" height="90" fill="#ffffff"/>
<rect x="1097" y="844" width="11" height="74" fill="#006400"/>
<rect x="1098" y="845" width="9" height="72" fill="#ffffff"/>
<rect x="1115" y="870" width="11" height="48" fill="#006400"/>
<rect x="1116" y="871" width="9" height="46" fill="#ffffff"/>
<rect x="1132" y="885" width="12" height="33" fill="#006400"/>
<rect x="1133" y="886" width="10" height="31" fill="#ffffff"/>
<rect x="1150" y="886" width="11" height="32" fill="#006400"/>
<rect x="1151" y="887" width="9" height="30" fill="#ffffff"/>
<rect x="1167" y="882" width="12" height="36" fill="#006400"/>
<rect x="1168" y="883" width="10" height="34" fill="#ffffff"/>
<rect x="1185" y="887" width="12" height="31" fill="#006400"/>
<rect x="1186" y="888" width="10" height="29" fill="#ffffff"/>
<rect x="1203" y="890" width="11" height="28" fill="#006400"/>
<rect x="1204" y="891" width="9" height="26" fill="#ffffff"/>
<rect x="1220" y="838" width="12" height="80" fill="#006400"/>
<rect x="1221" y="839" width="10" height="78" fill="#ffffff"/>
<rect x="1238" y="811" width="12" height="107" fill="#006400"/>
<rect x="1239" y="812" width="10" height="105" fill="#ffffff"/>
<rect x="1256" y="799" width="11" height="119" fill="#006400"/>
<rect x="1257" y="800" width="9" height="117" fill="#ffffff"/>
<rect x="1273" y="800" width="12" height="118" fill="#006400"/>
<rect x="1274" y="801" width="10" height="116" fill="#ffffff"/>
</g>
<g shape-rendering="crispEdges">
<rect x="0" y="14" width="1360" height="1" fill="#000"/>
<rect x="0" y="14" width="1" height="1028" fill="#000"/>
<rect x="1359" y="14" width="1" height="1028" fill="#000"/>
<rect x="1311" y="14" width="1" height="1027" fill="#000"/>
<rect x="0" y="770" width="1311" height="1" fill="#000"/>
<rect x="1" y="771" width="1310" height="13" fill="#add8e6"/>
<rect x="0" y="784" width="1360" height="1" fill="#000"/>
<rect x="0" y="1025" width="1311" height="1" fill="#000"/>
<rect x="1" y="1026" width="1310" height="14" fill="#add8e6"/>
<rect x="0" y="1040" width="1360" height="2" fill="#000"/>
<rect x="9" y="770" width="1" height="1" fill="#8e8e8e"/>
<rect x="9" y="1025" width="1" height="1" fill="#8e8e8e"/>
<rect x="97" y="770" width="1" height="1" fill="#8e8e8e"/>
<rect x="97" y="1025" width="1" height="1" fill="#8e8e8e"/>
<rect x="168" y="770" width="1" height="1" fill="#8e8e8e"/>
<rect x="168" y="1025" width="1" height="1" fill="#8e8e8e"/>
<rect x="256" y="770" width="1" height="1" fill="#8e8e8e"/>
<rect x="256" y="1025" width="1" height="1" fill="#8e8e8e"/>
<rect x="326" y="770" width="1" height="1" fill="#8e8e8e"/>
<rect x="326" y="1025" width="1" height="1" fill="#8e8e8e"/>
<rect x="397" y="770" width="1" height="1" fill="#8e8e8e"/>
<rect x="397" y="1025" width="1" height="1" fill="#8e8e8e"/>
<rect x="485" y="770" width="1" height="1" fill="#8e8e8e"/>
<rect x="485" y="1025" width="1" height="1" fill="#8e8e8e"/>
<rect x="556" y="770" width="1" height="1" fill="#8e8e8e"/>
<rect x="556" y="1025" width="1" height="1" fill="#8e8e8e"/>
<rect x="626" y="770" width="1" height="1" fill="#8e8e8e"/>
<rect x="626" y="1025" width="1" height="1" fill="#8e8e8e"/>
<rect x="714" y="770" width="1" height="1" fill="#8e8e8e"/>
<rect x="714" y="1025" width="1" height="1" fill="#8e8e8e"/>
<rect x="785" y="770" width="1" height="1" fill="#8e8e8e"/>
<rect x="785" y="1025" width="1" height="1" fill="#8e8e8e"/>
<rect x="855" y="770" width="1" height="1" fill="#8e8e8e"/>
<rect x="855" y="1025" width="1" height="1" fill="#8e8e8e"/>
<rect x="943" y="770" width="1" height="1" fill="#8e8e8e"/>
<rect x="943" y="1025" width="1" height="1" fill="#8e8e8e"/>
<rect x="1014" y="770" width="1" height="1" fill="#8e8e8e"/>
<rect x="1014" y="1025" width="1" height="1" fill="#8e8e8e"/>
<rect x="1085" y="770" width="1" height="1" fill="#8e8e8e"/>
<rect x="1085" y="1025" width="1" height="1" fill="#8e8e8e"/>
<rect x="1173" y="770" width="1" height="1" fill="#8e8e8e"/>
<rect x="1173" y="1025" width="1" height="1" fill="#8e8e8e"/>
<rect x="1243" y="770" width="1" height="1" fill="#8e8e8e"/>
<rect x="1243" y="1025" width="1" height="1" fill="#8e8e8e"/>
<rect x="1312" y="780" width="3" height="1" fill="#8e8e8e"/>
<rect x="1312" y="768" width="3" height="1" fill="#8e8e8e"/>
<rect x="1312" y="756" width="5" height="1" fill="#8e8e8e"/>
<rect x="1312" y="745" width="3" height="1" fill="#8e8e8e"/>
<rect x="1312" y="734" width="3" height="1" fill="#8e8e8e"/>
<rect x="1312" y="724" width="3" height="1" fill="#8e8e8e"/>
<rect x="1312" y="713" width="3" height="1" fill="#8e8e8e"/>
<rect x="1312" y="702" width="5" height="1" fill="#8e8e8e"/>
<rect x="1312" y="690" width="3" height="1" fill="#8e8e8e"/>
<rect x="1312" y="677" width="3" height="1" fill="#8e8e8e"/>
<rect x="1312" y="665" width="3" height="1" fill="#8e8e8e"/>
<rect x="1312" y="652" width="5" height="1" fill="#8e8e8e"/>
<rect x="1312" y="641" width="3" height="1" fill="#8e8e8e"/>
<rect x="1312" y="630" width="3" height="1" fill="#8e8e8e"/>
<rect x="1312" y="618" width="3" height="1" fill="#8e8e8e"/>
<rect x="1312" y="607" width="5" height="1" fill="#8e8e8e"/>
<rect x="1312" y="596" width="3" height="1" fill="#8e8e8e"/>
<rect x="1312" y="585" width="3" height="1" fill="#8e8e8e"/>
<rect x="1312" y="574" width="3" height="1" fill="#8e8e8e"/>
<rect x="1312" y="564" width="5" height="1" fill="#8e8e8e"/>
<rect x="1312" y="554" width="3" height="1" fill="#8e8e8e"/>
<rect x="1312" y="544" width="3" height="1" fill="#8e8e8e"/>
<rect x="1312" y="534" width="3" height="1" fill="#8e8e8e"/>
<rect x="1312" y="524" width="5" height="1" fill="#8e8e8e"/>
<rect x="1312" y="511" width="3" height="1" fill="#8e8e8e"/>
<rect x="1312" y="499" width="3" height="1" fill="#8e8e8e"/>
<rect x="1312" y="486" width="5" height="1" fill="#8e8e8e"/>
<rect x="1312" y="474" width="3" height="1" fill="#8e8e8e"/>
<rect x="1312" y="463" width="3" height="1" fill="#8e8e8e"/>
<rect x="1312" y="451" width="5" height="1" fill="#8e8e8e"/>
<rect x="1312" y="440" width="3" height="1" fill="#8e8e8e"/>
<rect x="1312" y="428" width="3" height="1" fill="#8e8e8e"/>
<rect x="1312" y="417" width="5" height="1" fill="#8e8e8e"/>
<rect x="1312" y="407" width="3" height="1" fill="#8e8e8e"/>
<rect x="1312" y="396" width="3" height="1" fill="#8e8e8e"/>
<rect x="1312" y="385" width="5" height="1" fill="#8e8e8e"/>
<rect x="1312" y="375" width="3" height="1" fill="#8e8e8e"/>
<rect x="1312" y="365" width="3" height="1" fill="#8e8e8e"/>
<rect x="1312" y="355" width="5" height="1" fill="#8e8e8e"/>
<rect x="1312" y="341" width="3" height="1" fill="#8e8e8e"/>
<rect x="1312" y="326" width="5" height="1" fill="#8e8e8e"/>
<rect x="1312" y="313" width="3" height="1" fill="#8e8e8e"/>
<rect x="1312" y="299" width="5" height="1" fill="#8e8e8e"/>
<rect x="1312" y="286" width="3" height="1" fill="#8e8e8e"/>
<rect x="1312" y="272" width="5" height="1" fill="#8e8e8e"/>
<rect x="1312" y="260" width="3" height="1" fill="#8e8e8e"/>
<rect x="1312" y="247" width="5" height="1" fill="#8e8e8e"/>
<rect x="1312" y="235" width="3" height="1" fill="#8e8e8e"/>
<rect x="1312" y="223" width="5" height="1" fill="#8e8e8e"/>
<rect x="1312" y="211" width="3" height="1" fill="#8e8e8e"/>
<rect x="1312" y="199" width="5" height="1" fill="#8e8e8e"/>
<rect x="1312" y="188" width="3" height="1" fill="#8e8e8e"/>
<rect x="1312" y="177" width="5" height="1" fill="#8e8e8e"/>
<rect x="1312" y="166" width="3" height="1" fill="#8e8e8e"/>
<rect x="1312" y="155" width="5" height="1" fill="#8e8e8e"/>
<rect x="1312" y="145" width="3" height="1" fill="#8e8e8e"/>
<rect x="1312" y="134" width="5" height="1" fill="#8e8e8e"/>
<rect x="1312" y="124" width="3" height="1" fill="#8e8e8e"/>
<rect x="1312" y="114" width="5" height="1" fill="#8e8e8e"/>
<rect x="1312" y="94" width="5" height="1" fill="#8e8e8e"/>
<rect x="1312" y="75" width="5" height="1" fill="#8e8e8e"/>
<rect x="1312" y="57" width="5" height="1" fill="#8e8e8e"/>
<rect x="1312" y="39" width="5" height="1" fill="#8e8e8e"/>
<rect x="1312" y="789" width="3" height="1" fill="#8e8e8e"/>
<rect x="1312" y="800" width="3" height="1" fill="#8e8e8e"/>
<rect x="1312" y="810" width="3" height="1" fill="#8e8e8e"/>
<rect x="1312" y="821" width="3" height="1" fill="#8e8e8e"/>
<rect x="1312" y="832" width="5" height="1" fill="#8e8e8e"/>
<rect x="1312" y="842" width="3" height="1" fill="#8e8e8e"/>
<rect x="1312" y="853" width="3" height="1" fill="#8e8e8e"/>
<rect x="1312" y="864" width="3" height="1" fill="#8e8e8e"/>
<rect x="1312" y="875" width="5" height="1" fill="#8e8e8e"/>
<rect x="1312" y="885" width="3" height="1" fill="#8e8e8e"/>
<rect x="1312" y="896" width="3" height="1" fill="#8e8e8e"/>
<rect x="1312" y="907" width="3" height="1" fill="#8e8e8e"/>
<rect x="1312" y="917" width="5" height="1" fill="#8e8e8e"/>
<rect x="1312" y="928" width="3" height="1" fill="#8e8e8e"/>
<rect x="1312" y="939" width="3" height="1" fill="#8e8e8e"/>
<rect x="1312" y="950" width="3" height="1" fill="#8e8e8e"/>
<rect x="1312" y="960" width="5" height="1" fill="#8e8e8e"/>
<rect x="1312" y="971" width="3" height="1" fill="#8e8e8e"/>
<rect x="1312" y="982" width="3" height="1" fill="#8e8e8e"/>
<rect x="1312" y="992" width="3" height="1" fill="#8e8e8e"/>
<rect x="1312" y="1003" width="5" height="1" fill="#8e8e8e"/>
<rect x="1312" y="1014" width="3" height="1" fill="#8e8e8e"/>
<rect x="1312" y="1025" width="3" height="1" fill="#8e8e8e"/>
<rect x="1312" y="1035" width="3" height="1" fill="#8e8e8e"/>
<rect x="1311" y="33" width="41" height="15" fill="#000"/>
<rect x="1312" y="34" width="39" height="13" fill="#ffb3b3"/>
</g>
<rect x="4" y="17" width="92" height="9" fill="#fff"/>
<rect x="4" y="787" width="142" height="11" fill="#fff"/>
<g font-family='"Liberation Sans", sans-serif'>
<text x="2.3" y="11" font-size="11.5" fill="#000" textLength="38" lengthAdjust="spacingAndGlyphs" font-weight="bold">(RNA)</text>
<text x="5.2" y="25" font-size="9.6" fill="#006400" stroke="#006400" stroke-width="0.1" textLength="19" lengthAdjust="spacingAndGlyphs">RNA</text>
<text x="32.3" y="25" font-size="9.6" fill="#0000ff" stroke="#0000ff" stroke-width="0.1" textLength="28" lengthAdjust="spacingAndGlyphs">MA(3)</text>
<text x="68.3" y="25" font-size="9.6" fill="#0000ff" stroke="#0000ff" stroke-width="0.1" textLength="26.5" lengthAdjust="spacingAndGlyphs">70.43</text>
<text x="5.1" y="795" font-size="9.6" fill="#000" stroke="#000" stroke-width="0.1" textLength="71" lengthAdjust="spacingAndGlyphs">MACD(26,12,9)</text>
<text x="87" y="795" font-size="9.6" fill="#0000ff" stroke="#0000ff" stroke-width="0.1" textLength="58" lengthAdjust="spacingAndGlyphs">MACD:5.477</text>
<text x="1318.2" y="760" font-size="11" fill="#000000" stroke="#000000" stroke-width="0.1" textLength="31.5" lengthAdjust="spacingAndGlyphs">22.00</text>
<text x="1318.2" y="706" font-size="11" fill="#000000" stroke="#000000" stroke-width="0.1" textLength="31.5" lengthAdjust="spacingAndGlyphs">24.00</text>
<text x="1318.2" y="656" font-size="11" fill="#000000" stroke="#000000" stroke-width="0.1" textLength="31.5" lengthAdjust="spacingAndGlyphs">26.00</text>
<text x="1318.2" y="610" font-size="11" fill="#000000" stroke="#000000" stroke-width="0.1" textLength="31.5" lengthAdjust="spacingAndGlyphs">28.00</text>
<text x="1318.2" y="568" font-size="11" fill="#000000" stroke="#000000" stroke-width="0.1" textLength="31.5" lengthAdjust="spacingAndGlyphs">30.00</text>
<text x="1318.2" y="528" font-size="11" fill="#000000" stroke="#000000" stroke-width="0.1" textLength="31.5" lengthAdjust="spacingAndGlyphs">32.00</text>
<text x="1318.2" y="490" font-size="11" fill="#000000" stroke="#000000" stroke-width="0.1" textLength="31.5" lengthAdjust="spacingAndGlyphs">34.00</text>
<text x="1318.2" y="455" font-size="11" fill="#000000" stroke="#000000" stroke-width="0.1" textLength="31.5" lengthAdjust="spacingAndGlyphs">36.00</text>
<text x="1318.2" y="421" font-size="11" fill="#000000" stroke="#000000" stroke-width="0.1" textLength="31.5" lengthAdjust="spacingAndGlyphs">38.00</text>
<text x="1318.2" y="389" font-size="11" fill="#000000" stroke="#000000" stroke-width="0.1" textLength="31.5" lengthAdjust="spacingAndGlyphs">40.00</text>
<text x="1318.2" y="359" font-size="11" fill="#000000" stroke="#000000" stroke-width="0.1" textLength="31.5" lengthAdjust="spacingAndGlyphs">42.00</text>
<text x="1318.2" y="330" font-size="11" fill="#000000" stroke="#000000" stroke-width="0.1" textLength="31.5" lengthAdjust="spacingAndGlyphs">44.00</text>
<text x="1318.2" y="303" font-size="11" fill="#000000" stroke="#000000" stroke-width="0.1" textLength="31.5" lengthAdjust="spacingAndGlyphs">46.00</text>
<text x="1318.2" y="276" font-size="11" fill="#000000" stroke="#000000" stroke-width="0.1" textLength="31.5" lengthAdjust="spacingAndGlyphs">48.00</text>
<text x="1318.2" y="251" font-size="11" fill="#000000" stroke="#000000" stroke-width="0.1" textLength="31.5" lengthAdjust="spacingAndGlyphs">50.00</text>
<text x="1318.2" y="227" font-size="11" fill="#000000" stroke="#000000" stroke-width="0.1" textLength="31.5" lengthAdjust="spacingAndGlyphs">52.00</text>
<text x="1318.2" y="203" font-size="11" fill="#000000" stroke="#000000" stroke-width="0.1" textLength="31.5" lengthAdjust="spacingAndGlyphs">54.00</text>
<text x="1318.2" y="181" font-size="11" fill="#000000" stroke="#000000" stroke-width="0.1" textLength="31.5" lengthAdjust="spacingAndGlyphs">56.00</text>
<text x="1318.2" y="159" font-size="11" fill="#000000" stroke="#000000" stroke-width="0.1" textLength="31.5" lengthAdjust="spacingAndGlyphs">58.00</text>
<text x="1318.2" y="138" font-size="11" fill="#000000" stroke="#000000" stroke-width="0.1" textLength="31.5" lengthAdjust="spacingAndGlyphs">60.00</text>
<text x="1318.2" y="118" font-size="11" fill="#000000" stroke="#000000" stroke-width="0.1" textLength="31.5" lengthAdjust="spacingAndGlyphs">62.00</text>
<text x="1318.2" y="98" font-size="11" fill="#000000" stroke="#000000" stroke-width="0.1" textLength="31.5" lengthAdjust="spacingAndGlyphs">64.00</text>
<text x="1318.2" y="79" font-size="11" fill="#000000" stroke="#000000" stroke-width="0.1" textLength="31.5" lengthAdjust="spacingAndGlyphs">66.00</text>
<text x="1318.2" y="60" font-size="11" fill="#000000" stroke="#000000" stroke-width="0.1" textLength="31.5" lengthAdjust="spacingAndGlyphs">68.00</text>
<text x="1316.8" y="44" font-size="11" fill="#000000" stroke="#000000" stroke-width="0.1" textLength="32" lengthAdjust="spacingAndGlyphs">70.65</text>
<text x="1318.2" y="836" font-size="11" fill="#000000" stroke="#000000" stroke-width="0.1" textLength="31.5" lengthAdjust="spacingAndGlyphs">4.000</text>
<text x="1318.2" y="879" font-size="11" fill="#000000" stroke="#000000" stroke-width="0.1" textLength="31.5" lengthAdjust="spacingAndGlyphs">2.000</text>
<text x="1318.2" y="921" font-size="11" fill="#000000" stroke="#000000" stroke-width="0.1" textLength="31.5" lengthAdjust="spacingAndGlyphs">0.000</text>
<text x="1318.2" y="964" font-size="11" fill="#000000" stroke="#000000" stroke-width="0.1" textLength="36.5" lengthAdjust="spacingAndGlyphs">-2.000</text>
<text x="1318.2" y="1007" font-size="11" fill="#000000" stroke="#000000" stroke-width="0.1" textLength="36.5" lengthAdjust="spacingAndGlyphs">-4.000</text>
<text x="2.2" y="781" font-size="11" fill="#000" stroke="#000" stroke-width="0.1" textLength="42.5" lengthAdjust="spacingAndGlyphs">2024Jul</text>
<text x="86.2" y="781" font-size="11" fill="#000" stroke="#000" stroke-width="0.1" textLength="21.5" lengthAdjust="spacingAndGlyphs">Aug</text>
<text x="157.4" y="781" font-size="11" fill="#000" stroke="#000" stroke-width="0.1" textLength="21" lengthAdjust="spacingAndGlyphs">Sep</text>
<text x="246.2" y="781" font-size="11" fill="#000" stroke="#000" stroke-width="0.1" textLength="19.5" lengthAdjust="spacingAndGlyphs">Oct</text>
<text x="314.9" y="781" font-size="11" fill="#000" stroke="#000" stroke-width="0.1" textLength="22" lengthAdjust="spacingAndGlyphs">Nov</text>
<text x="385.9" y="781" font-size="11" fill="#000" stroke="#000" stroke-width="0.1" textLength="22" lengthAdjust="spacingAndGlyphs">Dec</text>
<text x="461.4" y="781" font-size="11" fill="#000" stroke="#000" stroke-width="0.1" textLength="47" lengthAdjust="spacingAndGlyphs">2025Jan</text>
<text x="546.1" y="781" font-size="11" fill="#000" stroke="#000" stroke-width="0.1" textLength="19.5" lengthAdjust="spacingAndGlyphs">Feb</text>
<text x="615.6" y="781" font-size="11" fill="#000" stroke="#000" stroke-width="0.1" textLength="20.5" lengthAdjust="spacingAndGlyphs">Mar</text>
<text x="704.4" y="781" font-size="11" fill="#000" stroke="#000" stroke-width="0.1" textLength="19" lengthAdjust="spacingAndGlyphs">Apr</text>
<text x="773.4" y="781" font-size="11" fill="#000" stroke="#000" stroke-width="0.1" textLength="23" lengthAdjust="spacingAndGlyphs">May</text>
<text x="845.4" y="781" font-size="11" fill="#000" stroke="#000" stroke-width="0.1" textLength="19" lengthAdjust="spacingAndGlyphs">Jun</text>
<text x="935.4" y="781" font-size="11" fill="#000" stroke="#000" stroke-width="0.1" textLength="15" lengthAdjust="spacingAndGlyphs">Jul</text>
<text x="1003.1" y="781" font-size="11" fill="#000" stroke="#000" stroke-width="0.1" textLength="21.5" lengthAdjust="spacingAndGlyphs">Aug</text>
<text x="1074.4" y="781" font-size="11" fill="#000" stroke="#000" stroke-width="0.1" textLength="21" lengthAdjust="spacingAndGlyphs">Sep</text>
<text x="1163.2" y="781" font-size="11" fill="#000" stroke="#000" stroke-width="0.1" textLength="19.5" lengthAdjust="spacingAndGlyphs">Oct</text>
<text x="1231.9" y="781" font-size="11" fill="#000" stroke="#000" stroke-width="0.1" textLength="22" lengthAdjust="spacingAndGlyphs">Nov</text>
<text x="2.2" y="1036" font-size="11" fill="#000" stroke="#000" stroke-width="0.1" textLength="42.5" lengthAdjust="spacingAndGlyphs">2024Jul</text>
<text x="86.2" y="1036" font-size="11" fill="#000" stroke="#000" stroke-width="0.1" textLength="21.5" lengthAdjust="spacingAndGlyphs">Aug</text>
<text x="157.4" y="1036" font-size="11" fill="#000" stroke="#000" stroke-width="0.1" textLength="21" lengthAdjust="spacingAndGlyphs">Sep</text>
<text x="246.2" y="1036" font-size="11" fill="#000" stroke="#000" stroke-width="0.1" textLength="19.5" lengthAdjust="spacingAndGlyphs">Oct</text>
<text x="314.9" y="1036" font-size="11" fill="#000" stroke="#000" stroke-width="0.1" textLength="22" lengthAdjust="spacingAndGlyphs">Nov</text>
<text x="385.9" y="1036" font-size="11" fill="#000" stroke="#000" stroke-width="0.1" textLength="22" lengthAdjust="spacingAndGlyphs">Dec</text>
<text x="461.4" y="1036" font-size="11" fill="#000" stroke="#000" stroke-width="0.1" textLength="47" lengthAdjust="spacingAndGlyphs">2025Jan</text>
<text x="546.1" y="1036" font-size="11" fill="#000" stroke="#000" stroke-width="0.1" textLength="19.5" lengthAdjust="spacingAndGlyphs">Feb</text>
<text x="615.6" y="1036" font-size="11" fill="#000" stroke="#000" stroke-width="0.1" textLength="20.5" lengthAdjust="spacingAndGlyphs">Mar</text>
<text x="704.4" y="1036" font-size="11" fill="#000" stroke="#000" stroke-width="0.1" textLength="19" lengthAdjust="spacingAndGlyphs">Apr</text>
<text x="773.4" y="1036" font-size="11" fill="#000" stroke="#000" stroke-width="0.1" textLength="23" lengthAdjust="spacingAndGlyphs">May</text>
<text x="845.4" y="1036" font-size="11" fill="#000" stroke="#000" stroke-width="0.1" textLength="19" lengthAdjust="spacingAndGlyphs">Jun</text>
<text x="935.4" y="1036" font-size="11" fill="#000" stroke="#000" stroke-width="0.1" textLength="15" lengthAdjust="spacingAndGlyphs">Jul</text>
<text x="1003.1" y="1036" font-size="11" fill="#000" stroke="#000" stroke-width="0.1" textLength="21.5" lengthAdjust="spacingAndGlyphs">Aug</text>
<text x="1074.4" y="1036" font-size="11" fill="#000" stroke="#000" stroke-width="0.1" textLength="21" lengthAdjust="spacingAndGlyphs">Sep</text>
<text x="1163.2" y="1036" font-size="11" fill="#000" stroke="#000" stroke-width="0.1" textLength="19.5" lengthAdjust="spacingAndGlyphs">Oct</text>
<text x="1231.9" y="1036" font-size="11" fill="#000" stroke="#000" stroke-width="0.1" textLength="22" lengthAdjust="spacingAndGlyphs">Nov</text>
<text x="1277.3" y="1052" font-size="11" fill="#000" stroke="#000" stroke-width="0.1">©</text>
<text x="1288.7" y="1052" font-size="11" fill="#000" stroke="#000" stroke-width="0.1" textLength="70.8" lengthAdjust="spacingAndGlyphs">12Stocks.com</text>
</g></svg></body></html>
